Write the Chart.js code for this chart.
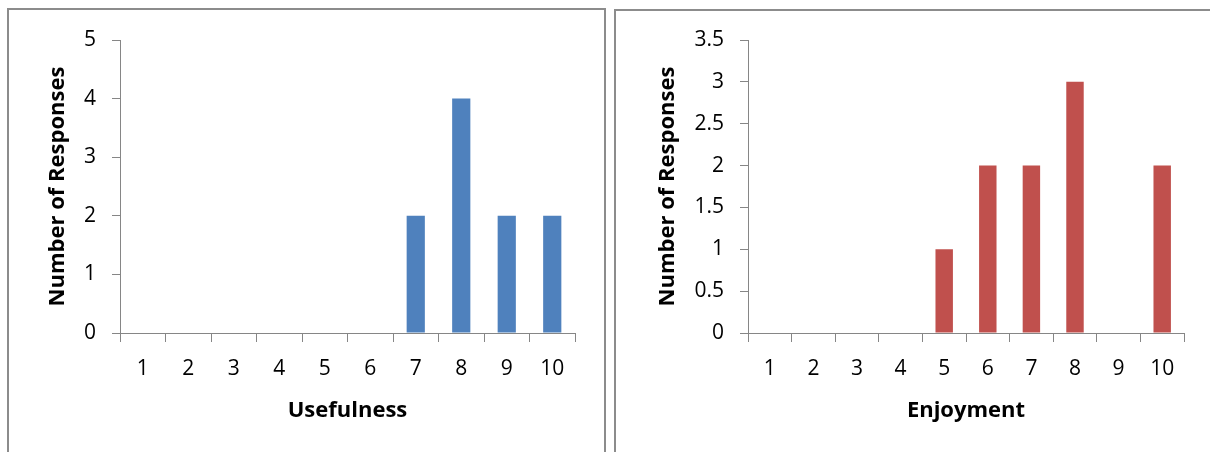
<!DOCTYPE html>
<html>
<head>
<meta charset="utf-8">
<script src="https://cdn.jsdelivr.net/npm/chart.js@4"></script>
<style>
  html, body { margin: 0; padding: 0; background: #fff; width: 1210px; height: 452px; overflow: hidden; }
  .box { position: absolute; border: 2px solid #8c8c8c; box-sizing: border-box; }
  .cv { position: absolute; top: 0; }
</style>
</head>
<body>
<div class="box" style="left:7px; top:8px; width:599px; height:460px;"></div>
<div class="box" style="left:614px; top:9px; width:610px; height:460px;"></div>
<div class="cv" style="left:0px; width:605px; height:452px;"><canvas id="c1"></canvas></div>
<div class="cv" style="left:610px; width:600px; height:452px;"><canvas id="c2"></canvas></div>
<script>
const categories = ['1','2','3','4','5','6','7','8','9','10'];
const usefulness = [0,0,0,0,0,0,2,4,2,2];
const enjoyment = [0,0,0,0,1,2,2,3,0,2];
const yTitle = 'Number of Responses';
const usefulnessTitle = 'Usefulness';
const enjoymentTitle = 'Enjoyment';
const usefulnessMax = 5, usefulnessStep = 1;
const enjoymentMax = 3.5, enjoymentStep = 0.5;

const FONT = '"Open Sans", Lato, sans-serif';
const AXIS = '#868686';

function makeChart(id, data, color, xTitle, yMax, yStep, pad, yWidth, xHeight) {
  return new Chart(document.getElementById(id), {
    type: 'bar',
    data: { labels: categories, datasets: [{ data: data, backgroundColor: color, borderWidth: 0,
      categoryPercentage: 1.0, barPercentage: 0.4 }] },
    options: {
      responsive: true, maintainAspectRatio: false, animation: false,
      layout: { padding: pad },
      plugins: { legend: { display: false }, tooltip: { enabled: false } },
      scales: {
        x: {
          grid: { drawOnChartArea: false, drawTicks: true, tickLength: 9, color: AXIS, offset: true },
          border: { color: AXIS, width: 1 },
          ticks: { color: '#000', font: { family: FONT, size: 21 }, padding: 14, maxRotation: 0 },
          title: { display: true, text: xTitle, color: '#000', font: { family: FONT, size: 22, weight: 'bold' }, padding: 4 },
          afterFit: s => { s.height = xHeight; }
        },
        y: {
          min: 0, max: yMax,
          grid: { drawOnChartArea: false, drawTicks: true, tickLength: 8, color: AXIS },
          border: { color: AXIS, width: 1 },
          ticks: { stepSize: yStep, color: '#000', font: { family: FONT, size: 21 }, padding: 16,
            callback: v => String(v) },
          title: { display: true, text: yTitle, color: '#000', font: { family: FONT, size: 22, weight: 'bold' }, padding: 4 },
          afterFit: s => { s.width = yWidth; }
        }
      }
    }
  });
}

makeChart('c1', usefulness, '#4F81BD', usefulnessTitle, usefulnessMax, usefulnessStep,
  { left: 41, top: 40, right: 30, bottom: 24 }, 79, 95);
makeChart('c2', enjoyment, '#C0504D', enjoymentTitle, enjoymentMax, enjoymentStep,
  { left: 41, top: 40, right: 26, bottom: 24 }, 97, 95);
</script>
</body>
</html>
